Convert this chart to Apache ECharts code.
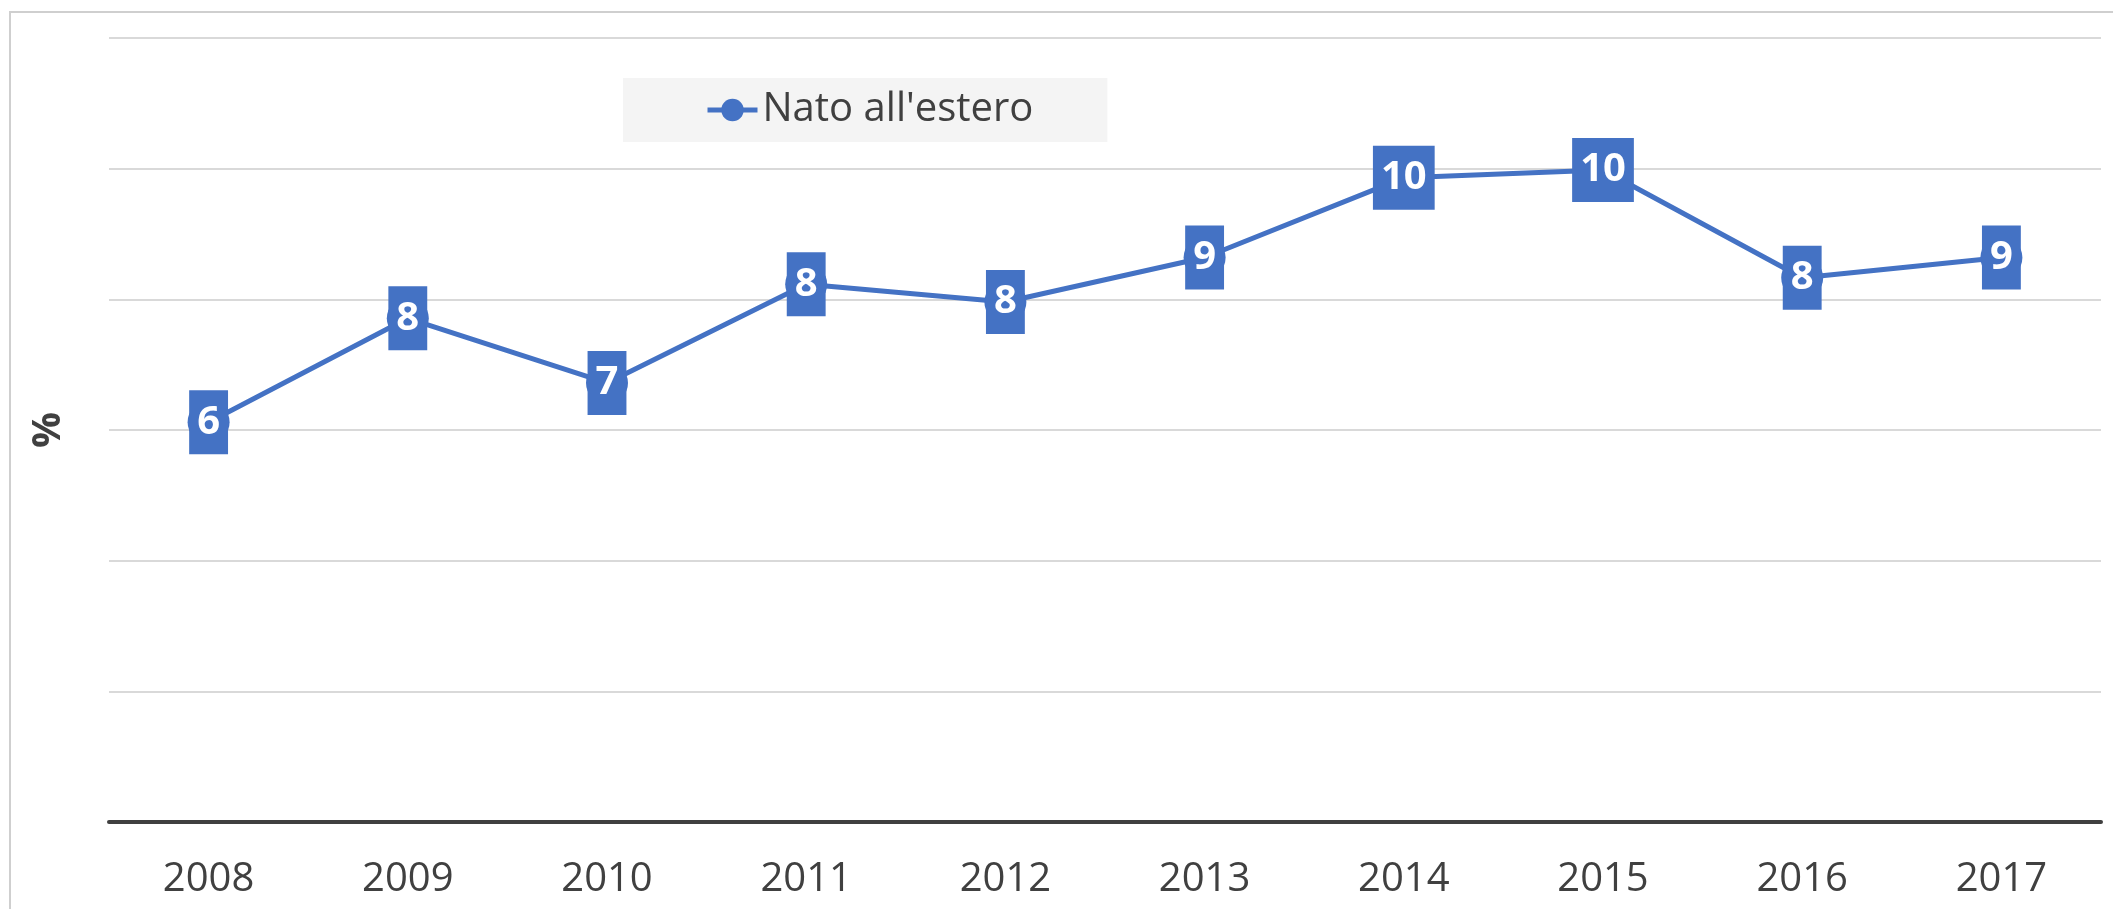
<!DOCTYPE html>
<html>
<head>
<meta charset="utf-8">
<script src="https://cdn.jsdelivr.net/npm/echarts@6/dist/echarts.min.js"></script>
<style>
  html, body { margin: 0; padding: 0; background: #fff; }
  #chart { width: 2113px; height: 909px; }
</style>
</head>
<body>
<div id="chart"></div>
<script>
// anni e quota nati all'estero (%)
var years = ['2008', '2009', '2010', '2011', '2012', '2013', '2014', '2015', '2016', '2017']
var natoEstero = [6.12, 7.71, 6.72, 8.23, 7.96, 8.64, 9.86, 9.98, 8.33, 8.64]
var seriesName = "Nato all'estero"
var yMin = 0
var yMax = 12
var yStep = 2

var blue = '#4472C4'
var textColor = '#404040'
var font = '"Open Sans", "Noto Sans", sans-serif'

var chart = echarts.init(document.getElementById('chart'))
var option = {
  backgroundColor: '#fff',
  textStyle: { fontFamily: font },
  graphic: [{
    type: 'rect',
    shape: { x: 10, y: 12, width: 2200, height: 1000 },
    style: { fill: 'none', stroke: '#cfcfcf', lineWidth: 2 },
    silent: true,
    z: -1
  }],
  legend: {
    data: [seriesName],
    left: 623,
    top: 78,
    padding: [12, 74, 12, 82],
    backgroundColor: '#f4f4f4',
    itemWidth: 50,
    itemHeight: 28,
    lineStyle: { width: 5 },
    textStyle: { color: textColor, fontSize: 40, fontFamily: font }
  },
  grid: {
    left: 109,
    right: 12,
    top: 38,
    bottom: 87,
    containLabel: false
  },
  xAxis: {
    type: 'category',
    data: years,
    boundaryGap: true,
    axisTick: { show: false },
    axisLine: { lineStyle: { color: textColor, width: 4 } },
    axisLabel: { color: textColor, fontSize: 40, margin: 38, fontFamily: font }
  },
  yAxis: {
    type: 'value',
    min: yMin,
    max: yMax,
    interval: yStep,
    name: '%',
    nameLocation: 'middle',
    nameGap: 40,
    nameTextStyle: { color: textColor, fontSize: 40, fontWeight: 'bold', fontFamily: font },
    axisLine: { show: false },
    axisTick: { show: false },
    axisLabel: { show: false },
    splitLine: { lineStyle: { color: '#d9d9d9', width: 2 } }
  },
  series: [{
    name: seriesName,
    type: 'line',
    data: natoEstero,
    symbol: 'circle',
    symbolSize: 42,
    lineStyle: { color: blue, width: 5 },
    itemStyle: { color: blue },
    label: {
      show: true,
      position: 'inside',
      formatter: function (p) { return Math.round(p.value) },
      color: '#fff',
      fontSize: 40,
      fontWeight: 'bold',
      fontFamily: font,
      lineHeight: 48,
      backgroundColor: blue,
      padding: [8, 8]
    },
    emphasis: { disabled: true }
  }]
}
chart.setOption(option)
</script>
</body>
</html>
